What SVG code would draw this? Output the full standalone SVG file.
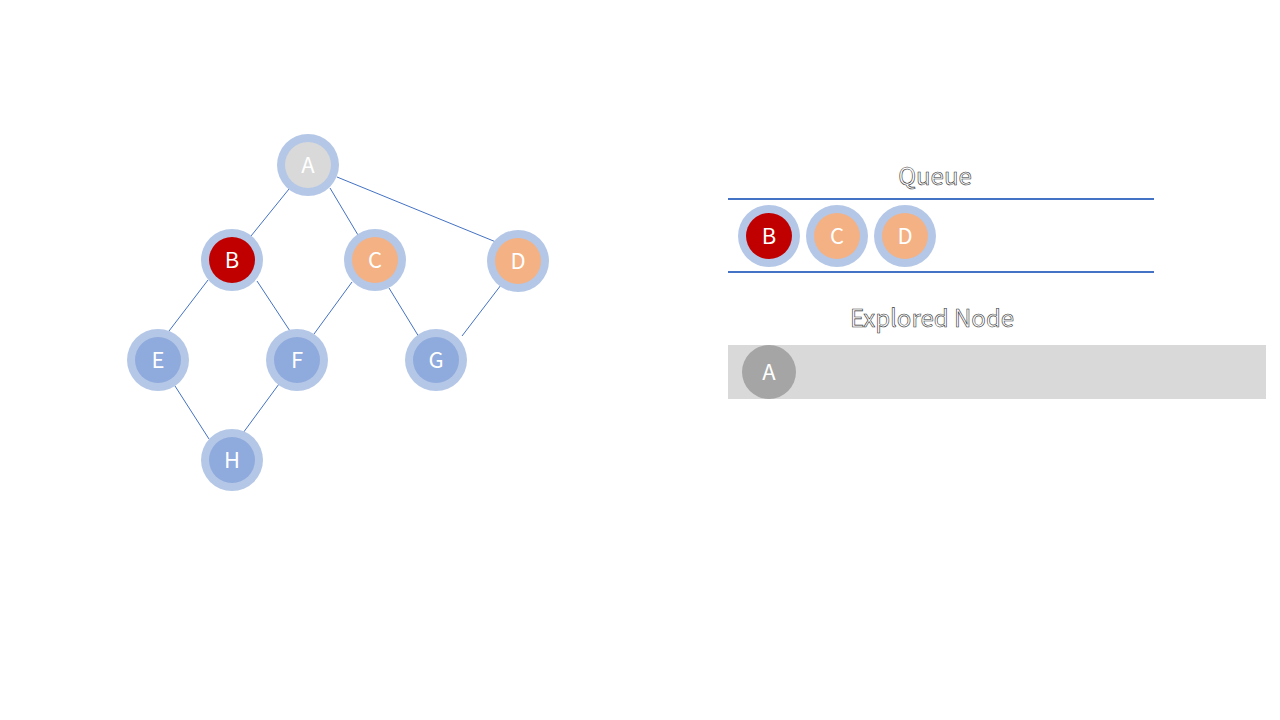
<svg xmlns="http://www.w3.org/2000/svg" width="1280" height="720" viewBox="0 0 1280 720">
<style>
.ring{fill:#B4C7E7}
.lbl{fill:#fff;font-family:"Noto Sans CJK SC","Noto Sans",sans-serif;font-size:22px;text-anchor:middle;dominant-baseline:central}
.edge{stroke:#4472C4;stroke-width:1}
.title{fill:#fff;stroke:#333;stroke-width:0.6;font-family:"Noto Sans CJK SC","Noto Sans",sans-serif;font-size:24px;text-anchor:middle;dominant-baseline:central}
.qline{stroke:#4472C4;stroke-width:2}
</style>
<rect width="1280" height="720" fill="#fff"/>
<g id="connectors">
<line class="edge" x1="289" y1="189" x2="251" y2="236"/>
<line class="edge" x1="330" y1="188" x2="358" y2="235"/>
<line class="edge" x1="337" y1="177" x2="496" y2="242"/>
<line class="edge" x1="208" y1="280" x2="169" y2="331"/>
<line class="edge" x1="257" y1="281" x2="290" y2="331"/>
<line class="edge" x1="352" y1="282" x2="314" y2="334"/>
<line class="edge" x1="389" y1="288" x2="419" y2="337"/>
<line class="edge" x1="501" y1="285" x2="462" y2="336"/>
<line class="edge" x1="175" y1="386" x2="209" y2="439"/>
<line class="edge" x1="279" y1="384" x2="243" y2="433"/>
</g>
<g id="node-A"><circle class="ring" cx="308" cy="165" r="31"/><circle cx="308" cy="165" r="23" fill="#D9D9D9"/><text class="lbl" x="308" y="163">A</text></g>
<g id="node-B"><circle class="ring" cx="232" cy="260" r="31"/><circle cx="232" cy="260" r="23" fill="#C00000"/><text class="lbl" x="232" y="258">B</text></g>
<g id="node-C"><circle class="ring" cx="375" cy="260" r="31"/><circle cx="375" cy="260" r="23" fill="#F4B183"/><text class="lbl" x="375" y="258">C</text></g>
<g id="node-D"><circle class="ring" cx="518" cy="261" r="31"/><circle cx="518" cy="261" r="23" fill="#F4B183"/><text class="lbl" x="518" y="259">D</text></g>
<g id="node-E"><circle class="ring" cx="158" cy="360" r="31"/><circle cx="158" cy="360" r="23" fill="#8FAADC"/><text class="lbl" x="158" y="358">E</text></g>
<g id="node-F"><circle class="ring" cx="297" cy="360" r="31"/><circle cx="297" cy="360" r="23" fill="#8FAADC"/><text class="lbl" x="297" y="358">F</text></g>
<g id="node-G"><circle class="ring" cx="436" cy="360" r="31"/><circle cx="436" cy="360" r="23" fill="#8FAADC"/><text class="lbl" x="436" y="358">G</text></g>
<g id="node-H"><circle class="ring" cx="232" cy="460" r="31"/><circle cx="232" cy="460" r="23" fill="#8FAADC"/><text class="lbl" x="232" y="458">H</text></g>
<g id="queue">
<text class="title" x="935" y="174">Queue</text>
<line class="qline" x1="728" y1="199" x2="1154" y2="199"/>
<line class="qline" x1="728" y1="272" x2="1154" y2="272"/>
<g id="queue-B"><circle class="ring" cx="769" cy="236" r="31"/><circle cx="769" cy="236" r="23" fill="#C00000"/><text class="lbl" x="769" y="234">B</text></g>
<g id="queue-C"><circle class="ring" cx="837" cy="236" r="31"/><circle cx="837" cy="236" r="23" fill="#F4B183"/><text class="lbl" x="837" y="234">C</text></g>
<g id="queue-D"><circle class="ring" cx="905" cy="236" r="31"/><circle cx="905" cy="236" r="23" fill="#F4B183"/><text class="lbl" x="905" y="234">D</text></g>
</g>
<g id="explored">
<text class="title" x="932" y="316">Explored Node</text>
<rect x="728" y="345" width="538" height="54" fill="#D9D9D9"/>
<g id="explored-A"><circle cx="769" cy="372" r="27" fill="#A5A5A5"/><text class="lbl" x="769" y="370">A</text></g>
</g>
</svg>
